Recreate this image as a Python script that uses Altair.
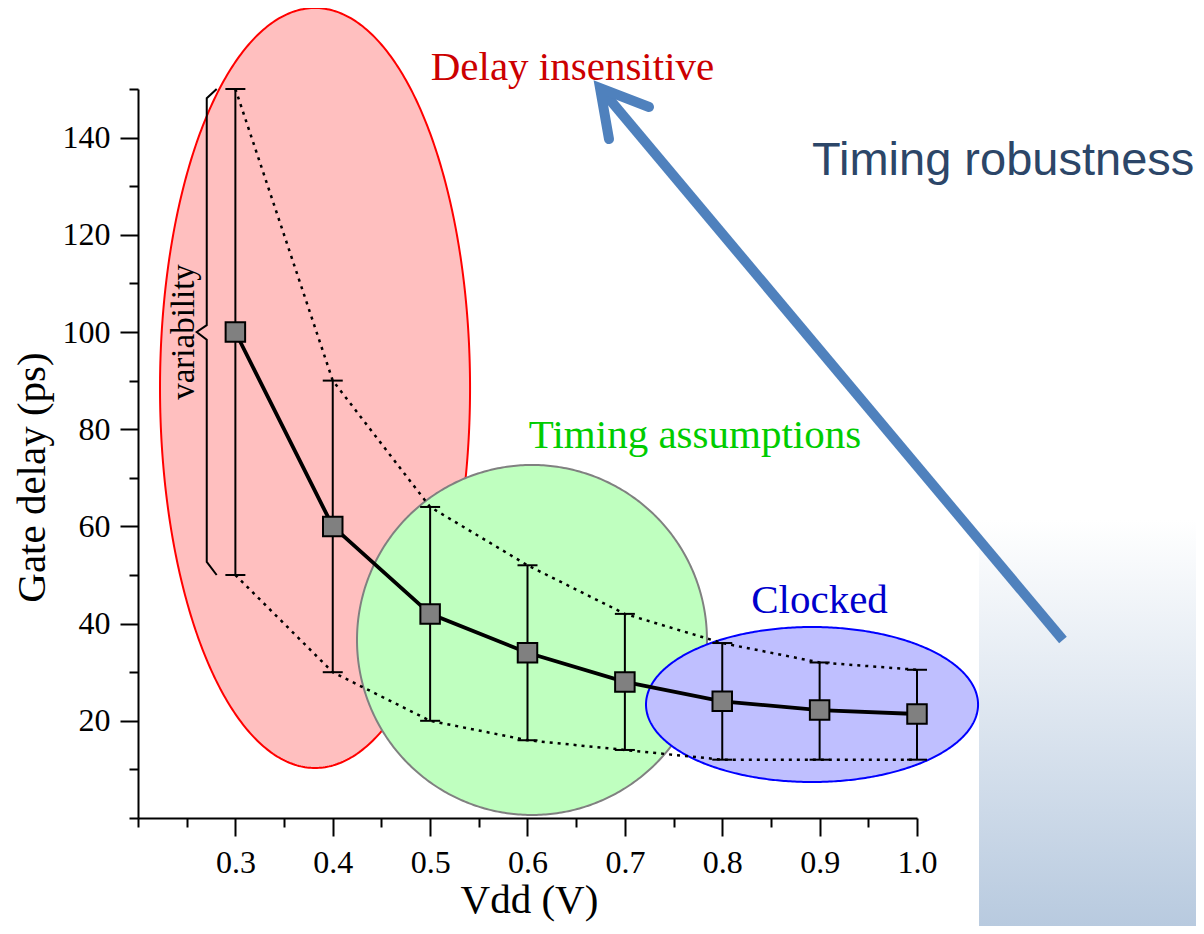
import altair as alt
import pandas as pd
import numpy as np

# ---- data ----
vdd = [0.3, 0.4, 0.5, 0.6, 0.7, 0.8, 0.9, 1.0]
delay = [100, 60, 42, 34, 28, 24, 22.2, 21.4]
delay_hi = [150, 90, 64, 52, 42, 36, 32, 30.5]
delay_lo = [50, 30, 20, 16, 14, 12, 12, 12]

x_tick_values = [round(0.2 + 0.05 * i, 2) for i in range(17)]
y_tick_values = list(range(0, 151, 10))

# ---- annotation geometry (data units) ----
regions = [
    # name, cx, cy, rx, ry, fill, stroke
    ("Delay insensitive", 0.3818, 88.48, 0.1592, 78.19, "#FFBFBF", "#FF0000"),
    ("Timing assumptions", 0.6046, 36.63, 0.1797, 36.01, "#BFFFBF", "#808080"),
    ("Clocked", 0.8922, 23.35, 0.1705, 15.95, "#BFBFFF", "#0000FF"),
]
region_labels = ["Delay insensitive", "Timing assumptions", "Clocked"]
region_label_x = [0.6462, 0.772, 0.8999]
region_label_y = [151.85, 76.13, 42.18]
region_label_colors = ["#CC0000", "#00CC00", "#0000CC"]

FONT = "Liberation Serif"

xs = alt.Scale(domain=[0.2, 1.0], nice=False, zero=False)
ys = alt.Scale(domain=[0, 150], nice=False, zero=False)

x_major = "abs(datum.value*10 - round(datum.value*10)) < 0.001 && datum.value > 0.25"
y_major = "datum.value % 20 == 0 && datum.value > 0"

xaxis = alt.Axis(
    values=x_tick_values,
    labelExpr=f"{x_major} ? format(datum.value, '.1f') : ''",
    title="Vdd (V)",
    titleFont=FONT, titleFontSize=41, titleFontWeight="normal", titleColor="black",
    titleX=391, titleY=94, titleBaseline="alphabetic", titleAlign="center",
    labelFont=FONT, labelFontSize=32, labelColor="black", labelPadding=11,
    labelFlush=False, labelOverlap=False,
    tickSize={"condition": {"test": x_major, "value": 18}, "value": 9},
    tickWidth=2, tickColor="black", domainColor="black", domainWidth=2, grid=False,
)
yaxis = alt.Axis(
    values=y_tick_values,
    labelExpr=f"{y_major} ? format(datum.value, 'd') : ''",
    title="Gate delay (ps)",
    titleFont=FONT, titleFontSize=41, titleFontWeight="normal", titleColor="black",
    titleX=-94, titleY=388, titleBaseline="alphabetic", titleAlign="center", titleAngle=270,
    labelFont=FONT, labelFontSize=32, labelColor="black", labelPadding=10,
    labelFlush=False, labelOverlap=False,
    tickSize={"condition": {"test": y_major, "value": 18}, "value": 9},
    tickWidth=2, tickColor="black", domainColor="black", domainWidth=2, grid=False,
)


def X(f):
    return alt.X(f, type="quantitative", scale=xs, axis=xaxis)


def Y(f):
    return alt.Y(f, type="quantitative", scale=ys, axis=yaxis)


layers = []

# background gradient panel (slide background)
bg = pd.DataFrame({"x": [1.0637], "x2": [1.3], "y": [61.32], "y2": [-22.2]})
layers.append(
    alt.Chart(bg).mark_rect(
        fill=alt.Gradient(
            gradient="linear",
            stops=[alt.GradientStop(offset=0, color="#FFFFFF"),
                   alt.GradientStop(offset=1, color="#B8CADF")],
            x1=0, x2=0, y1=0, y2=1,
        )
    ).encode(x=X("x"), x2="x2", y=Y("y"), y2="y2")
)

# ellipses
t = np.linspace(0, np.pi, 241)
for name, cx, cy, rx, ry, fill, stroke in regions:
    df = pd.DataFrame({
        "x": cx + rx * np.cos(t),
        "y": cy + ry * np.sin(t),
        "y2": cy - ry * np.sin(t),
    })
    layers.append(
        alt.Chart(df).mark_area(fill=fill, stroke=stroke, strokeWidth=2, opacity=1)
        .encode(x=X("x"), y=Y("y"), y2="y2")
    )

data = pd.DataFrame({"vdd": vdd, "delay": delay, "hi": delay_hi, "lo": delay_lo})

# dotted envelopes
for col in ["hi", "lo"]:
    layers.append(
        alt.Chart(data).mark_line(color="black", strokeWidth=2.5, strokeDash=[3, 5])
        .encode(x=X("vdd"), y=Y(col))
    )

# error bars
layers.append(
    alt.Chart(data).mark_rule(color="black", strokeWidth=2)
    .encode(x=X("vdd"), y=Y("lo"), y2="hi")
)
for col in ["hi", "lo"]:
    layers.append(
        alt.Chart(data).mark_tick(orient="horizontal", size=20, thickness=2, color="black", opacity=1)
        .encode(x=X("vdd"), y=Y(col))
    )

# mean line and squares
layers.append(
    alt.Chart(data).mark_line(color="black", strokeWidth=3.8)
    .encode(x=X("vdd"), y=Y("delay"))
)
layers.append(
    alt.Chart(data).mark_square(size=380, fill="#808080", stroke="black", strokeWidth=2, opacity=1)
    .encode(x=X("vdd"), y=Y("delay"))
)

# variability brace
bx, bc, bh = 0.2706, 0.2603, 0.2808
brace = pd.DataFrame({
    "i": list(range(7)),
    "x": [bh, bx, bx, bc, bx, bx, bh],
    "y": [150, 148.1, 101.4, 100, 98.4, 52.7, 50],
})
layers.append(
    alt.Chart(brace).mark_line(color="black", strokeWidth=2, strokeJoin="miter")
    .encode(x=X("x"), y=Y("y"), order="i:Q")
)
layers.append(
    alt.Chart(pd.DataFrame({"x": [0.2575], "y": [100], "t": ["variability"]}))
    .mark_text(font=FONT, fontSize=33, angle=270, align="center", baseline="alphabetic", color="black")
    .encode(x=X("x"), y=Y("y"), text="t:N")
)

# region labels
for lab, lx, ly, col in zip(region_labels, region_label_x, region_label_y, region_label_colors):
    layers.append(
        alt.Chart(pd.DataFrame({"x": [lx], "y": [ly], "t": [lab]}))
        .mark_text(font=FONT, fontSize=41, align="center", baseline="alphabetic", color=col)
        .encode(x=X("x"), y=Y("y"), text="t:N")
    )

# arrow "Timing robustness"
shaft = pd.DataFrame({"i": [0, 1], "x": [1.1499, 0.6745], "y": [36.63, 150.2]})
head = pd.DataFrame({"i": [0, 1, 2], "x": [0.7248, 0.6745, 0.6837], "y": [146.3, 150.2, 139.7]})
layers.append(
    alt.Chart(shaft).mark_line(color="#4F81BD", strokeWidth=10, strokeCap="butt")
    .encode(x=X("x"), y=Y("y"), order="i:Q")
)
layers.append(
    alt.Chart(head).mark_line(color="#4F81BD", strokeWidth=10, strokeCap="round", strokeJoin="miter")
    .encode(x=X("x"), y=Y("y"), order="i:Q")
)
layers.append(
    alt.Chart(pd.DataFrame({"x": [0.8922], "y": [132.3], "t": ["Timing robustness"]}))
    .mark_text(font="Liberation Sans", fontSize=47, align="left", baseline="alphabetic", color="#2C4668")
    .encode(x=X("x"), y=Y("y"), text="t:N")
)

chart = (
    alt.layer(*layers)
    .properties(
        width=779, height=729,
        autosize=alt.AutoSizeParams(type="none"),
        padding={"left": 130, "top": 81, "right": 279, "bottom": 108},
        background="white",
    )
    .configure_view(stroke=None)
)

chart.save("out.html", embed_options={"renderer": "svg", "actions": False})
